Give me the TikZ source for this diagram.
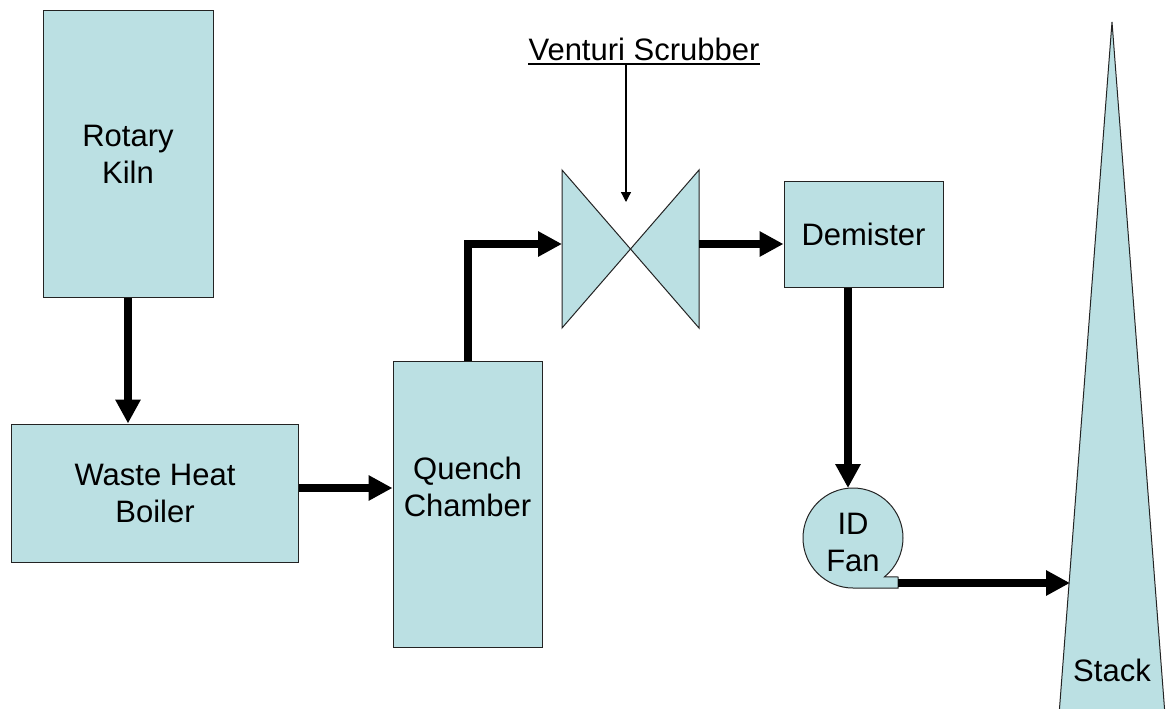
\documentclass[tikz,border=0pt]{standalone}
\usepackage{fontspec}
\setmainfont{Liberation Sans}
\usetikzlibrary{arrows.meta}
\definecolor{boxfill}{RGB}{187,224,227}
\definecolor{edge}{RGB}{35,35,35}
\begin{document}
\begin{tikzpicture}[x=1pt,y=-1pt,
  unit/.style={draw=edge, fill=boxfill, line width=1pt, inner sep=0pt, align=center, font=\fontsize{31}{37}\selectfont},
  unitshape/.style={draw=edge, fill=boxfill, line width=1pt},
  flow/.style={line width=8pt, -{Triangle[length=24pt,width=24pt]}},
  feed/.style={line width=1.3pt, -{Triangle[length=10pt,width=10pt]}},
  lbl/.style={font=\fontsize{31}{37}\selectfont, align=center, inner sep=0pt}]
\useasboundingbox[fill=white] (0,0) rectangle (1173,709);

% units
\node[unit, minimum width=170pt, minimum height=286pt] (kiln) at (128,154) {Rotary\\Kiln};
\node[unit, minimum width=287pt, minimum height=138pt] (boiler) at (155,493) {Waste Heat\\Boiler};
\node[unit, minimum width=149pt, minimum height=286pt] (quench) at (467.5,504) {};
\node[lbl] (quenchlabel) at (467.5,487) {Quench\\Chamber};
\node[unit, minimum width=159pt, minimum height=106pt] (demister) at (863.5,234) {Demister};

% venturi scrubber
\coordinate (ventC) at (630.5,249);
\coordinate (ventL) at (562,244);
\coordinate (ventR) at (699,244);
\filldraw[unitshape] (562,170) -- (562,328) -- (ventC) -- cycle;
\filldraw[unitshape] (699,170) -- (699,328) -- (ventC) -- cycle;
\node[lbl, anchor=base] (vs) at (644,61) {Venturi Scrubber};
\draw[line width=1.5pt] ([yshift=-3pt]vs.base west) -- ([yshift=-3pt]vs.base east);
\coordinate (vsline) at (626,64);
\coordinate (vstip) at (626,202);

% ID fan
\filldraw[unitshape] (853,588) arc[start angle=-90, end angle=-411, radius=50pt] -- (898,577) -- (898,588) -- cycle;
\node[lbl] (fanlabel) at (853,542) {ID\\Fan};
\coordinate (fantop) at (848,488);
\coordinate (fantail) at (898,583);

% stack
\filldraw[unitshape] (1059,715) -- (1112,22) -- (1165,715);
\node[lbl] (stacklabel) at (1112,670) {Stack};
\coordinate (stackin) at (1070,583);

% connectors
\draw[flow] (kiln.south) -- (kiln.south |- boiler.north);
\draw[flow] ([yshift=5pt]boiler.east) -- ([yshift=5pt]boiler.east -| quench.west);
\draw[flow] (quench.north) |- (ventL);
\draw[flow] (ventR) -- (ventR -| demister.west);
\draw[flow] (demister.south -| fantop) -- (fantop);
\draw[flow] (fantail) -- (stackin);
\draw[feed] (vsline) -- (vstip);
\end{tikzpicture}
\end{document}
